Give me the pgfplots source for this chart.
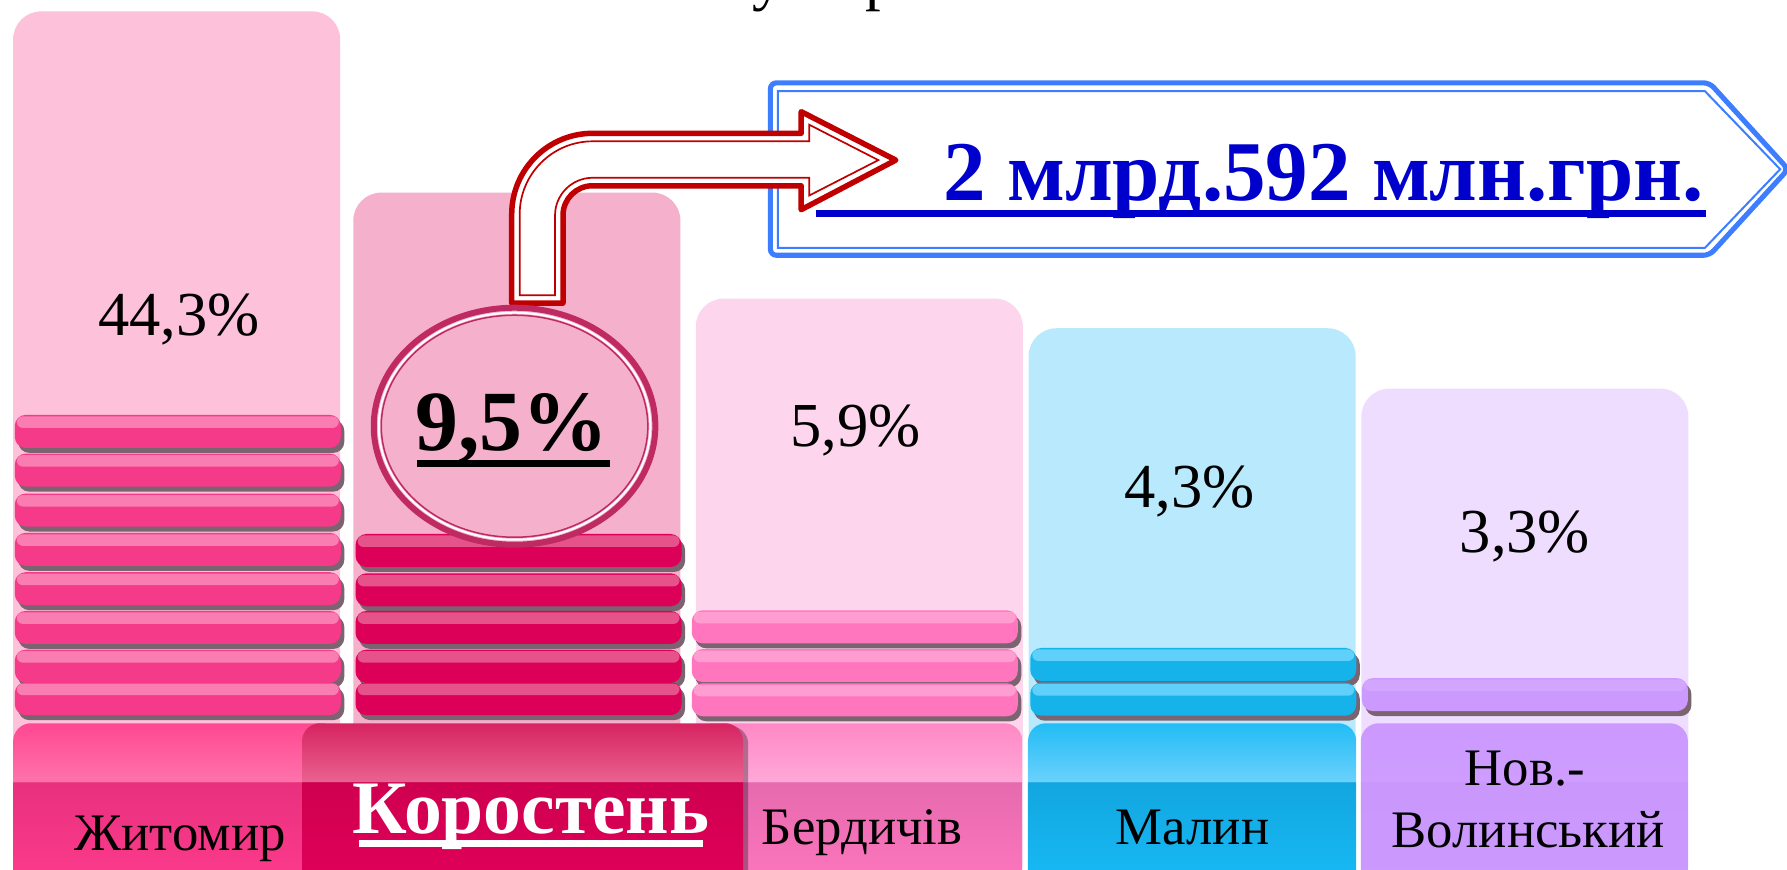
\documentclass[border=0pt]{standalone}
\usepackage{fontspec}
\setmainfont{Liberation Serif}
\usepackage{pgfplots}
\pgfplotsset{compat=1.18}

\definecolor{bgA}{HTML}{FDC1DA}
\definecolor{bgB}{HTML}{F5B1CB}
\definecolor{bgC}{HTML}{FDD5EC}
\definecolor{bgD}{HTML}{B9E9FC}
\definecolor{bgE}{HTML}{EEDDFE}
\definecolor{cAb}{HTML}{F43A88}\definecolor{cAl}{HTML}{FA7DB2}
\definecolor{cBb}{HTML}{DC0058}\definecolor{cBl}{HTML}{E6528A}
\definecolor{cCb}{HTML}{FF76BF}\definecolor{cCl}{HTML}{FF9DD1}
\definecolor{cDb}{HTML}{16B2EA}\definecolor{cDl}{HTML}{5ED0F9}
\definecolor{cEb}{HTML}{CC99FF}\definecolor{cEl}{HTML}{D2A6FF}
\definecolor{coinshadow}{HTML}{7A6470}
% label blocks: ht = highlight top, hb = highlight bottom, bt = body top, bb = body bottom
\definecolor{kAht}{HTML}{FF4892}\definecolor{kAhb}{HTML}{FF72AA}\definecolor{kAbt}{HTML}{E8307F}\definecolor{kAbb}{HTML}{FF3C8D}
\definecolor{kBht}{HTML}{D62460}\definecolor{kBhb}{HTML}{E9628F}\definecolor{kBbt}{HTML}{CF004F}\definecolor{kBbb}{HTML}{E2005A}
\definecolor{kCht}{HTML}{FF88C5}\definecolor{kChb}{HTML}{FFA8D8}\definecolor{kCbt}{HTML}{E66AAE}\definecolor{kCbb}{HTML}{FF77BF}
\definecolor{kDht}{HTML}{22BCF5}\definecolor{kDhb}{HTML}{6AD1FC}\definecolor{kDbt}{HTML}{12A6DF}\definecolor{kDbb}{HTML}{18BCF8}
\definecolor{kEht}{HTML}{CC99FF}\definecolor{kEhb}{HTML}{CE9DFF}\definecolor{kEbt}{HTML}{CA97FD}\definecolor{kEbb}{HTML}{CC99FF}
\definecolor{arrowred}{HTML}{C00000}
\definecolor{frameblue}{HTML}{3C7EFF}
\definecolor{textblue}{HTML}{0000CC}
\definecolor{ringc}{HTML}{C02A62}

\newcommand\defblock[1]{%
\pgfdeclareverticalshading{blk#1}{100bp}{color(0bp)=(k#1bb); color(25bp)=(k#1bb); color(57.6bp)=(k#1bt); color(57.8bp)=(k#1hb); color(75bp)=(k#1ht); color(100bp)=(k#1ht)}}
\defblock{A}\defblock{B}\defblock{C}\defblock{D}\defblock{E}

\newcommand\defcoin[3]{%
\pgfdeclareplotmark{#1}{%
  \pgfsetcornersarced{\pgfpoint{1.1mm}{1.1mm}}%
  \pgfpathrectangle{\pgfpoint{-15.95mm}{-2.15mm}}{\pgfpoint{32.6mm}{3.3mm}}%
  \pgfsetfillcolor{coinshadow}\pgfusepath{fill}%
  \pgfpathrectangle{\pgfpoint{-16.3mm}{-1.65mm}}{\pgfpoint{32.6mm}{3.3mm}}%
  \pgfsetfillcolor{#2}\pgfusepath{fill}%
  \pgfsetcornersarced{\pgfpoint{0.6mm}{0.6mm}}%
  \pgfpathrectangle{\pgfpoint{-16.1mm}{0.35mm}}{\pgfpoint{32.2mm}{1.15mm}}%
  \pgfsetfillcolor{#3}\pgfusepath{fill}%
}}
\defcoin{coinA}{cAb}{cAl}
\defcoin{coinB}{cBb}{cBl}
\defcoin{coinC}{cCb}{cCl}
\defcoin{coinD}{cDb}{cDl}
\defcoin{coinE}{cEb}{cEl}

\newcommand\pct{\fontsize{17.8pt}{20pt}\selectfont}
\newcommand\lbl{\fontsize{15pt}{17pt}\selectfont}

\begin{document}
\begin{tikzpicture}
\useasboundingbox (0,0) rectangle (178.7mm,86.96mm);
\clip (0,0) rectangle (178.7mm,86.96mm);
% the axis reaches 3mm below the page, so that the blocks run off the bottom edge
\begin{axis}[at={(0,-3mm)},anchor=south west,scale only axis,
  width=178.7mm,height=89.96mm,
  xmin=0,xmax=1568,ymin=-6.32,ymax=783,hide axis,clip=true]
% background columns (visual heights)
\addplot[ybar,bar width=287,fill=bgA,draw=none,rounded corners=2.8mm] coordinates {(155,773)};
\addplot[ybar,bar width=287,fill=bgB,draw=none,rounded corners=2.8mm] coordinates {(453.5,614)};
\addplot[ybar,bar width=287,fill=bgC,draw=none,rounded corners=2.8mm] coordinates {(754,521)};
\addplot[ybar,bar width=287,fill=bgD,draw=none,rounded corners=2.8mm] coordinates {(1046,495)};
\addplot[ybar,bar width=287,fill=bgE,draw=none,rounded corners=2.8mm] coordinates {(1338,442)};
% coins
\addplot[only marks,mark=coinA] coordinates {(156,404.5)(156,370.5)(156,335.5)(156,301)(156,266.5)(156,232.5)(156,198.5)(156,170)};
\addplot[only marks,mark=coinB] coordinates {(455,300)(455,265.5)(455,232.5)(455,198.5)(455,170)};
\addplot[only marks,mark=coinC] coordinates {(750,233)(750,199)(750,169)};
\addplot[only marks,mark=coinD] coordinates {(1047,200)(1047,169.5)};
\addplot[only marks,mark=coinE] coordinates {(1338,173.5)};
% label blocks
\addplot[ybar,bar width=287,shade,shading=blkA,draw=none,rounded corners=1.8mm] coordinates {(155,148.4)};
\addplot[ybar,bar width=287,shade,shading=blkC,draw=none,rounded corners=1.8mm] coordinates {(753.5,148.4)};
\addplot[ybar,bar width=288,shade,shading=blkD,draw=none,rounded corners=1.8mm] coordinates {(1046,148.4)};
\addplot[ybar,bar width=287,shade,shading=blkE,draw=none,rounded corners=1.8mm] coordinates {(1337.5,148.4)};
\addplot[ybar,bar width=387,fill=black,fill opacity=0.3,draw=none,rounded corners=1.8mm] coordinates {(463,146)};
\addplot[ybar,bar width=387,shade,shading=blkB,draw=none,rounded corners=1.8mm] coordinates {(458.5,148.4)};
\end{axis}

\begin{scope}[x=0.11397mm,y=-0.11397mm,shift={(0,86.96mm)}]
% cut-off title remnants
\node[anchor=base west,inner sep=0,font=\pct] at (660,-1.5) {у};
\node[anchor=base west,inner sep=0,font=\pct] at (759,-1.5) {р};
% blue sign frame
\draw[frameblue,line width=0.51mm,fill=white,rounded corners=0.6mm]
  (676,72.7) -- (1500,72.7) -- (1569,148.5) -- (1500,224) -- (676,224) -- cycle;
\draw[frameblue,line width=0.2mm]
  (682.5,80) -- (1496,80) -- (1562,148.5) -- (1496,217.5) -- (682.5,217.5) -- cycle;
% bent arrow
\draw[arrowred,line width=0.55mm,fill=white,line join=round]
  (449,266) -- (449,188) .. controls (449,148.8) and (480.8,117) .. (520,117)
  -- (703,117) -- (703,98) -- (786,140.5) -- (703,184) -- (703,163) -- (520,163)
  .. controls (505.6,163) and (494,174.6) .. (494,189) -- (494,266) -- cycle;
\draw[arrowred,line width=0.17mm,line join=miter]
  (456,259) -- (456,188) .. controls (456,152.7) and (484.7,124) .. (520,124)
  -- (710,124) -- (710,109.4) -- (770.7,140.5) -- (710,171.6) -- (710,156) -- (520,156)
  .. controls (501.8,156) and (487,170.8) .. (487,189) -- (487,259) -- cycle;
% ring around 9,5%
\fill[bgB] (451.5,374) ellipse [x radius=14.08mm, y radius=11.85mm];
\draw[ringc,line width=0.6mm] (451.5,374) ellipse [x radius=14.08mm, y radius=11.85mm];
\draw[white,line width=0.2mm] (451.5,374) ellipse [x radius=13.58mm, y radius=11.35mm];
\draw[ringc,line width=0.15mm] (451.5,374) ellipse [x radius=13.33mm, y radius=11.1mm];
% value labels
\node[anchor=base,inner sep=0,font=\pct] at (157,294) {44,3\%};
\node[anchor=base,inner sep=0,font=\fontsize{24.4pt}{26pt}\selectfont\bfseries] at (449,395) {9,5\%};
\draw[black,line width=0.73mm] (366,407) -- (535,407);
\node[anchor=base,inner sep=0,font=\pct] at (750.5,392) {5,9\%};
\node[anchor=base,inner sep=0,font=\pct] at (1044,445) {4,3\%};
\node[anchor=base,inner sep=0,font=\pct] at (1338,484.6) {3,3\%};
% total
\node[anchor=base east,inner sep=0,text=textblue,font=\fontsize{24.2pt}{26pt}\selectfont\bfseries] at (1496,175.5) {2 млрд.592 млн.грн.};
\draw[textblue,line width=0.73mm] (715.7,187.5) -- (1497,187.5);
% category labels
\node[anchor=base,inner sep=0,font=\lbl] at (158,746) {Житомир};
\node[anchor=base,inner sep=0,text=white,font=\fontsize{21.5pt}{23pt}\selectfont\bfseries] at (466,731) {Коростень};
\draw[white,line width=0.68mm] (315,740) -- (617,740);
\node[anchor=base,inner sep=0,font=\lbl] at (756.5,741.4) {Бердичів};
\node[anchor=base,inner sep=0,font=\lbl] at (1046.5,741) {Малин};
\node[anchor=base,inner sep=0,font=\lbl] at (1338,689) {Нов.-};
\node[anchor=base,inner sep=0,font=\lbl] at (1341,744) {Волинський};
\end{scope}
\end{tikzpicture}
\end{document}
